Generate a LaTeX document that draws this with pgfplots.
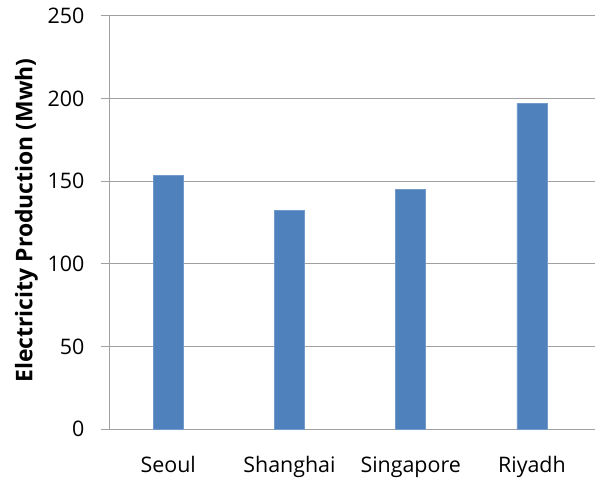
\documentclass[border=0pt]{standalone}
\usepackage{pgfplots}
\pgfplotsset{compat=1.18}
\usepackage{fontspec}
\setmainfont{Open Sans}
\definecolor{barblue}{HTML}{4F81BD}
\definecolor{gridgray}{HTML}{A0A0A0}
\begin{document}
\begin{tikzpicture}
\useasboundingbox (-110bp,-53bp) rectangle (485bp,429bp);
\begin{axis}[
  scale only axis,
  width=485bp, height=413bp,
  at={(0,0)}, anchor=south west,
  xmin=-0.48, xmax=3.52,
  ymin=0, ymax=250,
  ytick={0,50,100,150,200,250},
  xtick={0,1,2,3},
  xticklabels={Seoul,Shanghai,Singapore,Riyadh},
  axis x line=bottom, axis y line=left,
  axis line style={gridgray, line width=1pt, -},
  ymajorgrids,
  grid style={gridgray, line width=1pt},
  tick align=outside,
  major tick length=9bp,
  ytick style={draw=gridgray, line width=1pt},
  xtick style={draw=none},
  tick label style={font=\fontsize{21.5}{25}\selectfont, text=black},
  /pgf/number format/assume math mode=true,
  yticklabel style={xshift=-13bp},
  xticklabel style={yshift=-15bp},
  ylabel={\bfseries Electricity Production (Mwh)},
  every axis y label/.style={at={(ticklabel cs:0.5)}, rotate=90, anchor=near ticklabel, font=\fontsize{23}{28}\selectfont\bfseries, text=black, yshift=3bp, xshift=2bp},
  ybar, bar width=30bp,
]
\addplot[fill=barblue, draw=barblue!80!white, line width=0.6pt] coordinates {(0,153.5) (1,132.5) (2,145) (3,197)};
\end{axis}
\end{tikzpicture}
\end{document}
